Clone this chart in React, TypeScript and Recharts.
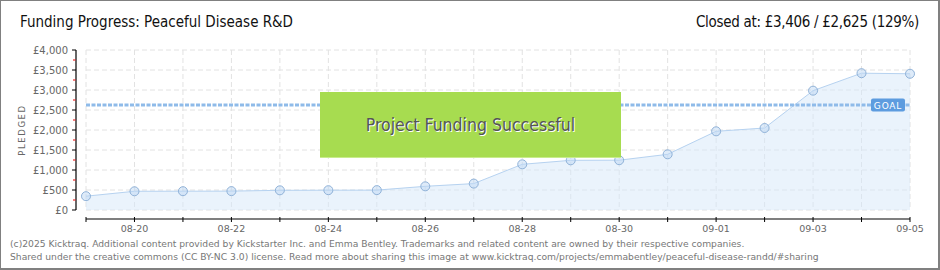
import React from "react";
import { AreaChart, Area, XAxis, YAxis, CartesianGrid, ReferenceLine } from "recharts";

const dates = ["08-19", "08-20", "08-21", "08-22", "08-23", "08-24", "08-25", "08-26", "08-27", "08-28", "08-29", "08-30", "08-31", "09-01", "09-02", "09-03", "09-04", "09-05"];
const pledged = [345, 468, 470, 472, 492, 495, 497, 592, 660, 1142, 1242, 1245, 1392, 1967, 2050, 2983, 3420, 3406];
const yTicks = [0, 500, 1000, 1500, 2000, 2500, 3000, 3500, 4000];
const goal = 2625;

const W = 940;
const H = 270;
const PLOT_LEFT = 86;
const PLOT_RIGHT = 910;
const PLOT_TOP = 50;
const PLOT_BOTTOM = 210;
const STEP_X = (PLOT_RIGHT - PLOT_LEFT) / (dates.length - 1);
const STEP_Y = (PLOT_BOTTOM - PLOT_TOP) / (yTicks.length - 1);

const data = dates.map((d, i) => ({ date: d, pledged: pledged[i] }));

const tickFont = "'DejaVu Sans', sans-serif";
const narrowFont = "'Liberation Sans Narrow', 'DejaVu Sans Condensed', 'Liberation Sans', sans-serif";

const fmt = (v: number) => "£" + v.toLocaleString("en-US");

function YTick(props: any) {
  const { y, payload } = props;
  const ax = PLOT_LEFT - 10;
  return (
    <g>
      {payload.value > 0 && (
        <>
          <line x1={ax} x2={ax} y1={y} y2={y + STEP_Y} stroke="#000" strokeWidth={1.2} />
          <line x1={ax - 3} x2={ax - 0.5} y1={y + STEP_Y / 2} y2={y + STEP_Y / 2} stroke="#e00" strokeWidth={1} />
        </>
      )}
      <line x1={ax - 4} x2={ax} y1={y} y2={y} stroke="#000" strokeWidth={1} />
      <text x={ax - 8} y={y + 3.5} textAnchor="end" fontSize={10} fill="#666" fontFamily={tickFont}>
        {fmt(payload.value)}
      </text>
    </g>
  );
}

function XTick(props: any) {
  const { x, payload, index } = props;
  const ay = PLOT_BOTTOM + 9;
  return (
    <g>
      {index < dates.length - 1 && (
        <line x1={x} x2={x + STEP_X} y1={ay} y2={ay} stroke="#000" strokeWidth={1.2} />
      )}
      <line x1={x} x2={x} y1={ay - 2} y2={ay + 3} stroke="#000" strokeWidth={1} />
      {index % 2 === 1 && (
        <text x={x} y={ay + 13} textAnchor="middle" fontSize={9.5} fill="#666" fontFamily={tickFont}>
          {payload.value}
        </text>
      )}
    </g>
  );
}

function GoalLabel(props: any) {
  const { viewBox } = props;
  const bx = viewBox.x + viewBox.width - 39;
  return (
    <g>
      <rect x={bx} y={viewBox.y - 6.5} width={34} height={13} rx={2} fill="#5d9cdf" />
      <text x={bx + 17} y={viewBox.y + 3.5} textAnchor="middle" fontSize={9} fill="#fff" fontFamily={tickFont} letterSpacing={0.8}>
        GOAL
      </text>
    </g>
  );
}

export default function App() {
  return (
    <div
      style={{
        position: "absolute",
        left: 0,
        top: 0,
        width: W,
        height: H,
        boxSizing: "border-box",
        borderStyle: "solid",
        borderColor: "#808080",
        borderWidth: "1px 2px 2px 1px",
        background: "#fff",
        overflow: "hidden",
      }}
    >
      <div style={{ position: "absolute", left: -1, top: -1 }}>
        <AreaChart width={W} height={H} data={data} margin={{ top: PLOT_TOP, right: W - PLOT_RIGHT, bottom: 0, left: 0 }}>
          <CartesianGrid stroke="#e2e2e2" strokeDasharray="5 3" />
          <XAxis
            dataKey="date"
            height={H - PLOT_BOTTOM}
            interval={0}
            axisLine={false}
            tickLine={false}
            tickSize={0}
            tick={<XTick />}
          />
          <YAxis
            width={PLOT_LEFT}
            domain={[0, 4000]}
            ticks={yTicks}
            interval={0}
            axisLine={false}
            tickLine={false}
            tickSize={0}
            tick={<YTick />}
          />
          <Area
            type="linear"
            dataKey="pledged"
            stroke="#b6d2f0"
            strokeWidth={1}
            fill="#d6e7fa"
            fillOpacity={0.5}
            dot={{ r: 4.5, fill: "#bdd7f4", stroke: "#90b2d8", strokeWidth: 1 }}
            isAnimationActive={false}
          />
          <ReferenceLine y={goal} stroke="#8fbbe9" strokeWidth={3} strokeDasharray="4 1.5" label={<GoalLabel />} />
        </AreaChart>

        <div
          style={{
            position: "absolute",
            left: 320,
            top: 92,
            width: 301,
            height: 66,
            background: "#a7dc50",
            borderBottom: "1px solid #c8ec8c",
            boxSizing: "border-box",
            display: "flex",
            alignItems: "center",
            justifyContent: "center",
            fontFamily: narrowFont,
            fontSize: 17.5,
            color: "#555",
            textShadow: "1px 1px 0 #fff",
          }}
        >
          Project Funding Successful
        </div>

        <div style={{ position: "absolute", left: 20, top: 13, fontFamily: narrowFont, fontSize: 15, color: "#111" }}>
          Funding Progress: Peaceful Disease R&amp;D
        </div>
        <div
          style={{
            position: "absolute",
            right: W - 919,
            top: 13,
            fontFamily: narrowFont,
            fontSize: 15,
            color: "#111",
            whiteSpace: "pre",
            letterSpacing: -0.3,
          }}
        >
          {"Closed at: £3,406 / £2,625 (129%)"}
        </div>

        <div
          style={{
            position: "absolute",
            left: 22,
            top: 130,
            transform: "translate(-50%, -50%) rotate(-90deg)",
            fontFamily: tickFont,
            fontSize: 8.5,
            color: "#666",
            letterSpacing: 1.6,
          }}
        >
          PLEDGED
        </div>

        <div
          style={{
            position: "absolute",
            left: 10,
            top: 237,
            fontFamily: "'DejaVu Sans', sans-serif",
            fontSize: 9.2,
            lineHeight: "13px",
            color: "#777",
            whiteSpace: "nowrap",
          }}
        >
          <div>(c)2025 Kicktraq. Additional content provided by Kickstarter Inc. and Emma Bentley. Trademarks and related content are owned by their respective companies.</div>
          <div>Shared under the creative commons (CC BY-NC 3.0) license. Read more about sharing this image at www.kicktraq.com/projects/emmabentley/peaceful-disease-randd/#sharing</div>
        </div>
      </div>
    </div>
  );
}
